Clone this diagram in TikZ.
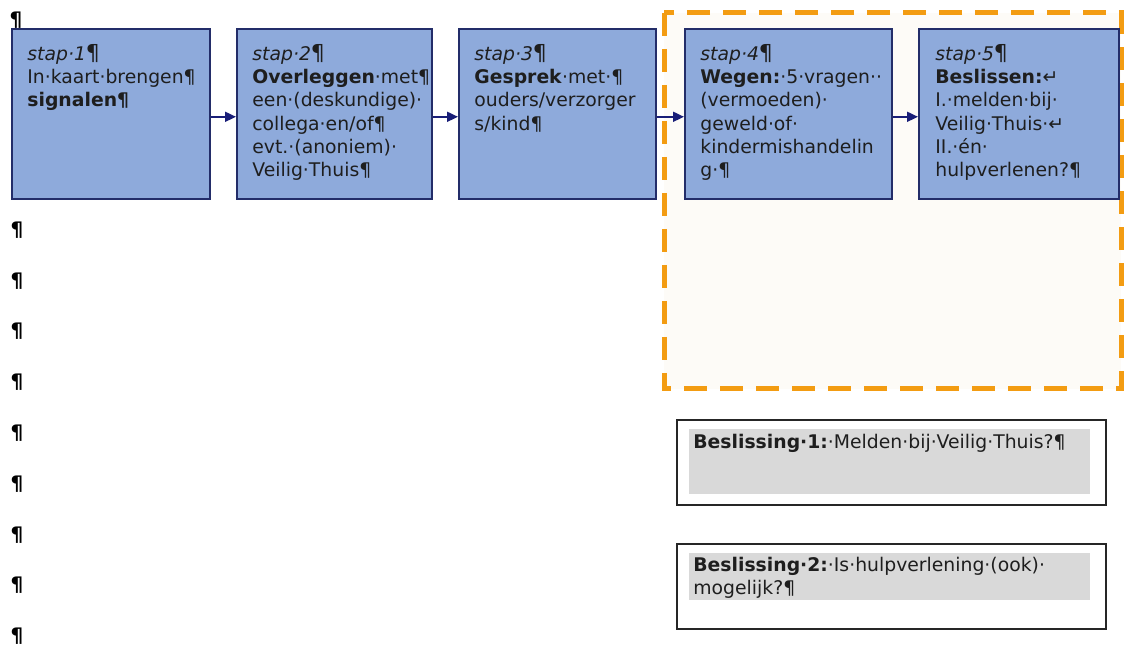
\documentclass[tikz,border=0pt]{standalone}
\usepackage{fontspec}
\setmainfont{DejaVu Sans}
\usetikzlibrary{arrows.meta,positioning,calc}

\definecolor{stapfill}{RGB}{142,170,219}
\definecolor{staplijn}{RGB}{35,45,105}
\definecolor{pijlkleur}{RGB}{25,30,120}
\definecolor{oranje}{RGB}{243,156,18}
\definecolor{kaderfill}{RGB}{253,251,247}
\definecolor{grijs}{RGB}{217,217,217}
\definecolor{tekst}{RGB}{30,30,30}

\newcommand{\grootpil}{{\fontsize{11}{11}\selectfont\upshape ¶}}

\tikzset{
  stapbox/.style={shape=rectangle,draw=staplijn,fill=stapfill,line width=0.8pt,
    anchor=north west,minimum width=#1,minimum height=85pt,inner sep=0pt},
  staptekst/.style={inner sep=0pt,align=left,text=tekst,
    font=\fontsize{9.4}{11.6}\selectfont},
  beslisbox/.style={shape=rectangle,draw=black!85,line width=0.8pt,anchor=north west,
    minimum width=214.5pt,minimum height=42.5pt,inner sep=0pt},
  pijl/.style={draw=pijlkleur,line width=0.9pt,-{Triangle[length=5.5pt,width=5pt]}},
  pil/.style={inner sep=0pt,text=black,font=\fontsize{10}{11.5}\selectfont\bfseries}
}

\begin{document}
\begin{tikzpicture}[x=0.5pt,y=-0.5pt]
    \useasboundingbox (0,0) rectangle (1125,646);

    % kader rond stap 4 en 5
    \draw[oranje,fill=kaderfill,line width=2.5pt,dash pattern=on 11.5pt off 6.5pt]
      (664,13) rectangle (1121,389);

    % stappen
    \node[stapbox=99pt] (s1) at (11,28) {};
    \node[stapbox=97.5pt] (s2) at (236,28) {};
    \node[stapbox=98.5pt] (s3) at (458,28) {};
    \node[stapbox=103.5pt] (s4) at (684,28) {};
    \node[stapbox=100pt] (s5) at (918,28) {};

    \foreach \a/\b in {s1/s2, s2/s3, s3/s4, s4/s5} {
      \draw[pijl] ($(\a.east)+(0,3)$) -- ($(\b.west)+(0,3)$);
    }

    % teksten
    \node[staptekst,below right=8pt and 8pt of s1.north west] (t1)
      {\textit{stap·1}\grootpil\\In·kaart·brengen¶\\\textbf{signalen¶}};
    \node[staptekst,below right=8pt and 8pt of s2.north west] (t2)
      {\textit{stap·2}\grootpil\\\textbf{Overleggen}·met¶\\een·(deskundige)·\\collega·en/of¶\\evt.·(anoniem)·\\Veilig·Thuis¶};
    \node[staptekst,below right=8pt and 8pt of s3.north west] (t3)
      {\textit{stap·3}\grootpil\\\textbf{Gesprek}·met·¶\\ouders/verzorger\\s/kind¶};
    \node[staptekst,below right=8pt and 8pt of s4.north west] (t4)
      {\textit{stap·4}\grootpil\\\textbf{Wegen:}·5·vragen··\\(vermoeden)·\\geweld·of·\\kindermishandelin\\g·¶};
    \node[staptekst,below right=8pt and 8.5pt of s5.north west] (t5)
      {\textit{stap·5}\grootpil\\\textbf{Beslissen:}↵\\I.·melden·bij·\\Veilig·Thuis·↵\\II.·én·\\hulpverlenen?¶};

    % beslissingen
    \node[beslisbox] (b1) at (676,419) {};
    \fill[grijs] (689,429) rectangle (1090,494);
    \node[staptekst,below right=7.5pt and 8.5pt of b1.north west] (bt1)
      {\textbf{Beslissing·1:}·Melden·bij·Veilig·Thuis?¶};

    \node[beslisbox] (b2) at (676,543) {};
    \fill[grijs] (689,553) rectangle (1090,600);
    \node[staptekst,below right=7pt and 8.5pt of b2.north west] (bt2)
      {\textbf{Beslissing·2:}·Is·hulpverlening·(ook)·\\mogelijk?¶};

    % lege alinea's
    \node[pil] (leeg) at (16,20) {¶};
    \foreach \k in {0,...,8} {
      \node[pil] (leeg\k) at (17,{230+50.8*\k}) {¶};
    }
\end{tikzpicture}
\end{document}
